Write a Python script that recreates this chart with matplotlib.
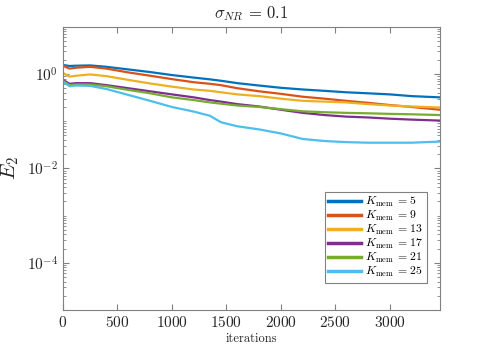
import matplotlib
matplotlib.use("Agg")
import matplotlib.pyplot as plt
from matplotlib.ticker import LogLocator, FixedLocator, NullFormatter

plt.rcParams['font.family'] = 'cmr10'
plt.rcParams['mathtext.fontset'] = 'cm'
plt.rcParams['axes.formatter.use_mathtext'] = True

# values (E_2 vs iterations)
iters = [0, 60, 120, 250, 400, 600, 800, 1000, 1200, 1350, 1450, 1600, 1800,
         2000, 2200, 2400, 2600, 2800, 3000, 3200, 3460]
k_labels = [5, 9, 13, 17, 21, 25]
e_k5 = [1.55, 1.48, 1.50, 1.52, 1.42, 1.25, 1.10, 0.95, 0.84, 0.77, 0.72, 0.64, 0.57,
        0.51, 0.47, 0.44, 0.41, 0.39, 0.37, 0.34, 0.32]
e_k9 = [1.50, 1.30, 1.36, 1.42, 1.30, 1.08, 0.92, 0.78, 0.67, 0.62, 0.58, 0.50, 0.43,
        0.38, 0.33, 0.30, 0.27, 0.245, 0.22, 0.20, 0.175]
e_k13 = [1.05, 0.88, 0.92, 0.98, 0.90, 0.75, 0.63, 0.54, 0.47, 0.44, 0.41, 0.37, 0.34,
         0.30, 0.27, 0.26, 0.25, 0.23, 0.215, 0.205, 0.195]
e_k17 = [0.75, 0.62, 0.64, 0.64, 0.58, 0.50, 0.43, 0.37, 0.32, 0.28, 0.26, 0.23, 0.205,
         0.175, 0.15, 0.135, 0.125, 0.12, 0.113, 0.108, 0.103]
e_k21 = [0.71, 0.58, 0.60, 0.60, 0.55, 0.46, 0.39, 0.32, 0.28, 0.25, 0.235, 0.215, 0.20,
         0.18, 0.162, 0.155, 0.15, 0.147, 0.143, 0.14, 0.135]
e_k25 = [0.69, 0.55, 0.57, 0.56, 0.48, 0.36, 0.27, 0.20, 0.16, 0.13, 0.095, 0.078, 0.067,
         0.055, 0.042, 0.038, 0.036, 0.035, 0.035, 0.035, 0.037]
series = [e_k5, e_k9, e_k13, e_k17, e_k21, e_k25]
colors = ['#0072BD', '#D95319', '#EDB120', '#7E2F8E', '#77AC30', '#4DBEEE']

fig = plt.figure(figsize=(4.79, 3.53), dpi=100)
ax = fig.add_axes([0.1315, 0.122, 0.787, 0.802])

for k, vals, c in zip(k_labels, series, colors):
    ax.plot(iters, vals, color=c, lw=1.6, label=r'$K_{\rm mem}\,=\,%d$' % k)

ax.set_yscale('log')
ax.set_ylim(1e-5, 10)
ax.set_xlim(0, 3460)
ax.set_xticks([0, 500, 1000, 1500, 2000, 2500, 3000])
ax.yaxis.set_major_locator(FixedLocator([1e-4, 1e-2, 1e0]))
ax.yaxis.set_minor_locator(LogLocator(base=10, subs=[1, 2, 3, 4, 5, 6, 7, 8, 9], numticks=20))
ax.yaxis.set_minor_formatter(NullFormatter())

gray = '#262626'
for s in ax.spines.values():
    s.set_color('#808080')
    s.set_linewidth(0.8)
ax.tick_params(which='both', direction='in', top=True, right=True, colors='#808080',
               labelcolor=gray, labelsize=11)
ax.tick_params(which='major', length=4)
ax.tick_params(which='minor', length=2)

ax.set_title(r'$\sigma_{NR}\,=\,0.1$', fontsize=12, color=gray, pad=6)
ax.set_xlabel('iterations', fontsize=9, color=gray, labelpad=2)
ax.set_ylabel(r'$E_2$', fontsize=15, color=gray, labelpad=4)

leg = ax.legend(loc='lower right', bbox_to_anchor=(0.965, 0.095), borderaxespad=0,
                fontsize=8.5, fancybox=False, framealpha=1, edgecolor='#808080',
                handlelength=2.8, labelspacing=0.0, borderpad=0.3, handletextpad=0.3)
leg.get_frame().set_linewidth(0.8)
for line in leg.get_lines():
    line.set_linewidth(2.5)

fig.savefig('out.png', dpi=100)
